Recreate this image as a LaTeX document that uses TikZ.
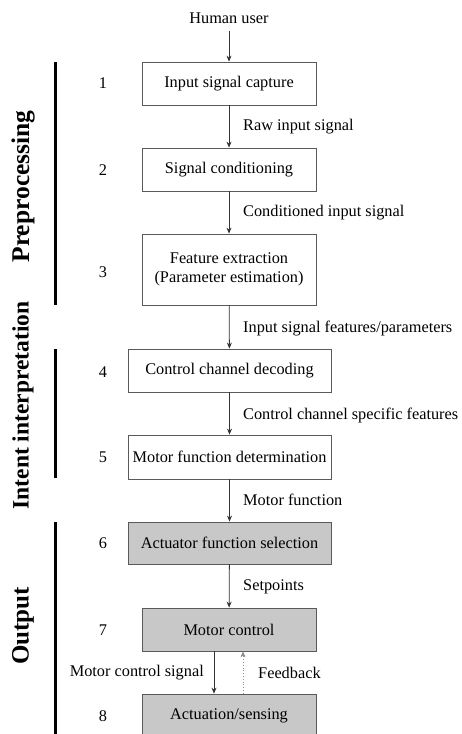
\documentclass[tikz,border=0pt]{standalone}
\usepackage{fontspec}
\setmainfont{Liberation Serif}
\usetikzlibrary{arrows.meta}
\definecolor{boxgray}{RGB}{200,200,200}
\definecolor{edgegray}{RGB}{90,90,90}
\begin{document}
\begin{tikzpicture}[x=1pt,y=-1pt,
  txt/.style={font=\fontsize{16.3}{19}\selectfont, inner sep=0pt},
  stagebox/.style={draw=edgegray, line width=0.8pt, txt, align=center, minimum height=43pt},
  narrow/.style={stagebox, minimum width=174pt},
  wide/.style={stagebox, minimum width=203pt},
  shaded/.style={fill=boxgray},
  arr/.style={draw=black!80, line width=0.8pt, -{Stealth[length=6pt,width=5pt]}},
  fb/.style={draw=black!45, line width=0.8pt, dotted, -{Stealth[length=6pt,width=5pt,fill=black]}},
  lbl/.style={txt, anchor=west},
  num/.style={txt},
  phase/.style={rotate=90, inner sep=0pt},
  bar/.style={line width=3pt, black}
]
\useasboundingbox (0,0) rectangle (461,734);
\clip (0,0) rectangle (461,734);

\node[txt] (user) at (229,18) {Human user};
\node[narrow] (b1) at (229,83.5) {Input signal capture};
\node[narrow] (b2) at (229,169.5) {Signal conditioning};
\node[narrow, minimum height=71pt] (b3) at (229,269.5) {Feature extraction\\(Parameter estimation)};
\node[wide] (b4) at (229.5,370.5) {Control channel decoding};
\node[wide, minimum height=44pt] (b5) at (229.5,457) {Motor function determination};
\node[wide, shaded, minimum height=42pt] (b6) at (229.5,543) {Actuator function selection};
\node[narrow, shaded] (b7) at (229,629.5) {Motor control};
\node[narrow, shaded] (b8) at (229,715.5) {Actuation/sensing};

\node[num] (n1) at (103,83) {1};
\node[num] (n2) at (103,170) {2};
\node[num] (n3) at (103,272) {3};
\node[num] (n4) at (103,372) {4};
\node[num] (n5) at (103,457) {5};
\node[num] (n6) at (103,543) {6};
\node[num] (n7) at (103,630) {7};
\node[num] (n8) at (103,716) {8};

\draw[arr] ([yshift=-7pt]user.south) -- (b1.north);
\draw[arr] (b1) -- (b2);
\draw[arr] (b2) -- (b3);
\draw[arr] (b3) -- (b4);
\draw[arr] (b4) -- (b5);
\draw[arr] (b5) -- (b6);
\draw[arr] (b6) -- (b7);

\coordinate (xl) at (214,0);
\coordinate (xr) at (243,0);
\draw[arr] (b7.south -| xl) -- (b8.north -| xl);
\draw[fb] (b8.north -| xr) -- (b7.south -| xr);

\node[lbl] (l1) at (243,127) {Raw input signal};
\node[lbl] (l2) at (243,213) {Conditioned input signal};
\node[lbl] (l3) at (243,329) {Input signal features/parameters};
\node[lbl] (l4) at (243,415) {Control channel specific features};
\node[lbl] (l5) at (243,500) {Motor function};
\node[lbl] (l6) at (243,587) {Setpoints};
\node[txt, anchor=east] (l7) at (204,673) {Motor control signal};
\node[lbl] (l8) at (258,673) {Feedback};

\draw[bar] (55,62) -- (55,305);
\draw[bar] (55,349) -- (55,478);
\draw[bar] (55,522) -- (55,740);

\node[phase, font=\bfseries\fontsize{25.5}{28}\selectfont] (p1) at (23,186.5) {Preprocessing};
\node[phase, font=\bfseries\fontsize{23.5}{26}\selectfont] (p2) at (23,405.5) {Intent interpretation};
\node[phase, font=\bfseries\fontsize{25}{28}\selectfont] (p3) at (23,626) {Output};
\end{tikzpicture}
\end{document}
